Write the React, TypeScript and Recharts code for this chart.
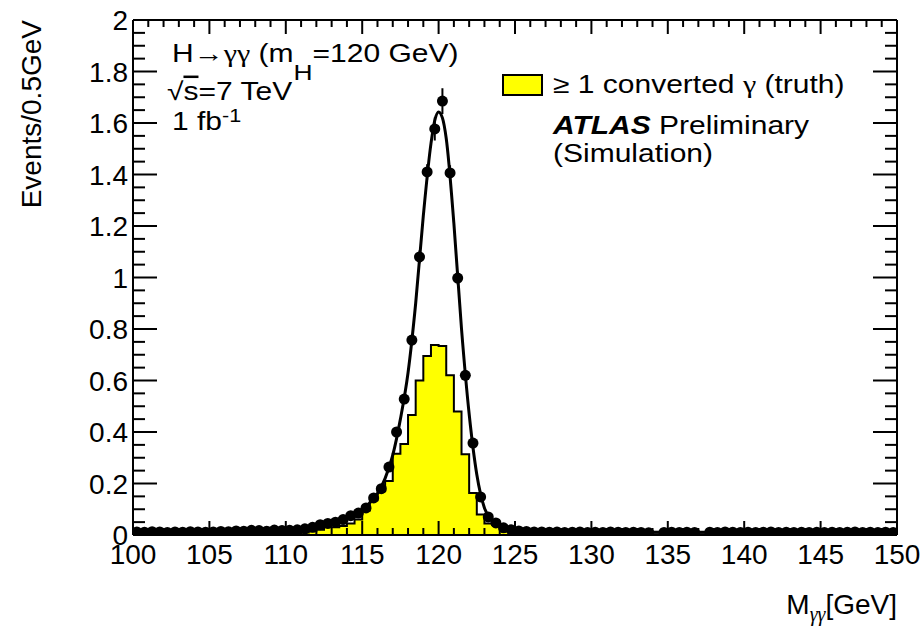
import React from "react"
import { ComposedChart, XAxis, YAxis, Area, Line, Scatter, ErrorBar } from "recharts"

const FONT = "'Liberation Sans', Arial, Helvetica, sans-serif"
const GREEK = "'Liberation Serif', 'DejaVu Serif', serif"
const W = 922
const H = 629
const TM = 8 // tick margin used to recover the axis position inside custom ticks
const SX = 1.2 // the annotation text in the original is drawn wider than it is tall

// yellow histogram (>= 1 converted photon), 0.5 GeV bins starting at 100 GeV
const histLowEdge = 100
const histBinWidth = 0.5
const histValues = [
    0.004, 0.003, 0.004, 0.004, 0.003, 0.004, 0.003, 0.004, 0.004, 0.003,
    0.004, 0.004, 0.003, 0.004, 0.004, 0.005, 0.004, 0.004, 0.005, 0.004,
    0.006, 0.008, 0.01, 0.015, 0.02, 0.03, 0.03, 0.035, 0.045, 0.06, 0.095, 0.135,
    0.17, 0.21, 0.316, 0.353, 0.466, 0.6, 0.695, 0.738, 0.734, 0.62, 0.48, 0.314, 0.163, 0.08, 0.045, 0.04,
    0.03, 0.015, 0.012, 0.008, 0.005, 0.004, 0.004, 0.003, 0.004, 0.003, 0.003, 0.004,
    0.003, 0.003, 0.004, 0.003, 0.003, 0.003, 0.004, 0.003, 0.003, 0.003,
    0.003, 0.004, 0.003, 0.003, 0.003, 0.003, 0.003, 0.004, 0.003, 0.003,
    0.003, 0.003, 0.003, 0.004, 0.003, 0.003, 0.003, 0.003, 0.004, 0.003,
    0.003, 0.003, 0.004, 0.003, 0.003, 0.003, 0.003, 0.004, 0.003, 0.003,
]

// black points (all events), one per 0.5 GeV bin, null = empty bin
const pointValues: (number | null)[] = [
    0.012, 0.011, 0.013, 0.012, 0.01, 0.012, 0.011, 0.013, 0.012, 0.011,
    0.012, 0.014, 0.013, 0.016, 0.015, 0.018, 0.017, 0.015, 0.019, 0.017,
    0.018, 0.02, 0.024, 0.03, 0.04, 0.045, 0.05, 0.06, 0.075, 0.085, 0.105, 0.144,
    0.18, 0.264, 0.4, 0.528, 0.757, 1.08, 1.41, 1.577, 1.685, 1.406, 0.998, 0.62, 0.357, 0.148, 0.07, 0.047,
    0.028, 0.02, 0.016, 0.014, 0.012, 0.012, 0.011, 0.012, 0.01, 0.011, 0.012, 0.01,
    0.011, 0.01, 0.012, 0.011, 0.01, 0.011, 0.01, 0.009, null, 0.01,
    0.011, 0.01, 0.011, 0.01, null, 0.011, 0.01, 0.012, 0.011, 0.01,
    0.011, 0.01, 0.011, 0.012, 0.01, 0.011, 0.01, 0.011, 0.01, 0.011,
    0.01, 0.011, 0.01, 0.011, 0.012, 0.01, 0.011, 0.01, 0.011, 0.01,
]
// statistical errors, only visible around the peak
const pointErrors = [
    0, 0, 0, 0, 0, 0, 0, 0, 0, 0, 0, 0, 0, 0, 0, 0, 0, 0, 0, 0,
    0, 0, 0, 0, 0, 0, 0, 0, 0, 0, 0, 0,
    0, 0, 0, 0, 0.02, 0.025, 0.03, 0.045, 0.05, 0.03, 0.025, 0.02, 0, 0, 0, 0,
]

// fitted signal shape
const fitX = [100, 105, 108, 110, 111, 112, 113, 114, 115, 115.5, 116, 116.5, 117, 117.5, 118, 118.5, 119, 119.5, 119.75, 120, 120.25, 120.5, 121, 121.5, 122, 122.5, 123, 123.5, 124, 124.5, 125, 126, 128, 135, 150]
const fitY = [0.011, 0.012, 0.014, 0.018, 0.022, 0.03, 0.045, 0.065, 0.098, 0.125, 0.16, 0.22, 0.31, 0.45, 0.63, 0.9, 1.24, 1.52, 1.61, 1.643, 1.62, 1.54, 1.21, 0.8, 0.47, 0.235, 0.105, 0.055, 0.035, 0.025, 0.02, 0.015, 0.012, 0.011, 0.01]

const xMajorTicks = [100, 105, 110, 115, 120, 125, 130, 135, 140, 145, 150]
const yMajorTicks = [0, 0.2, 0.4, 0.6, 0.8, 1, 1.2, 1.4, 1.6, 1.8, 2]
const yTickLabels = ["0", "0.2", "0.4", "0.6", "0.8", "1", "1.2", "1.4", "1.6", "1.8", "2"]

const histData = [
    ...histValues.map((y, i) => ({ x: histLowEdge + i * histBinWidth, y })),
    { x: histLowEdge + histValues.length * histBinWidth, y: histValues[histValues.length - 1] },
]
const pointData = pointValues
    .map((y, i) => ({ x: histLowEdge + (i + 0.5) * histBinWidth, y, err: pointErrors[i] ?? 0 }))
    .filter((d) => d.y !== null)
const fitData = fitX.map((x, i) => ({ x, y: fitY[i] }))

const xTicks = xMajorTicks.flatMap((t, i) => (i === xMajorTicks.length - 1 ? [t] : [t, t + 1, t + 2, t + 3, t + 4]))
const yTicks = yMajorTicks.flatMap((t, i) => (i === yMajorTicks.length - 1 ? [t] : [t, t + 0.05, t + 0.1, t + 0.15]))

const majorIndex = (list: number[], v: number) => list.findIndex((m) => Math.abs(m - v) < 1e-6)

const BottomTick = ({ x, y, payload }: any) => {
    const major = majorIndex(xMajorTicks, payload.value) >= 0
    const axisY = y - TM
    return (
        <g>
            <line x1={x} x2={x} y1={axisY} y2={axisY - (major ? 14 : 7)} stroke="#000" strokeWidth={2} />
            {major && (
                <text x={x} y={axisY + 29} textAnchor="middle" fontSize={28} fontFamily={FONT} fill="#000">
                    {payload.value}
                </text>
            )}
        </g>
    )
}

const TopTick = ({ x, y, payload }: any) => {
    const major = majorIndex(xMajorTicks, payload.value) >= 0
    const axisY = y + TM
    return <line x1={x} x2={x} y1={axisY} y2={axisY + (major ? 14 : 7)} stroke="#000" strokeWidth={2} />
}

const LeftTick = ({ x, y, payload }: any) => {
    const idx = majorIndex(yMajorTicks, payload.value)
    const axisX = x + TM
    return (
        <g>
            <line x1={axisX} x2={axisX + (idx >= 0 ? 24 : 12)} y1={y} y2={y} stroke="#000" strokeWidth={2} />
            {idx >= 0 && (
                <text x={axisX - 5} y={y + 10} textAnchor="end" fontSize={28} fontFamily={FONT} fill="#000">
                    {yTickLabels[idx]}
                </text>
            )}
        </g>
    )
}

const RightTick = ({ x, y, payload }: any) => {
    const major = majorIndex(yMajorTicks, payload.value) >= 0
    const axisX = x - TM
    return <line x1={axisX} x2={axisX - (major ? 24 : 12)} y1={y} y2={y} stroke="#000" strokeWidth={2} />
}

const Dot = (p: any) => <circle cx={p.cx} cy={p.cy} r={5.5} fill="#000" />

const Ann = ({ x, y, size = 25, children }: { x: number; y: number; size?: number; children: React.ReactNode }) => (
    <text transform={`translate(${x} ${y}) scale(${SX} 1)`} fontSize={size} fontFamily={FONT} fill="#000">
        {children}
    </text>
)

const axisLine = { stroke: "#000", strokeWidth: 2 }

export default function App() {
    return (
        <div style={{ position: "absolute", left: 0, top: 0, width: W, height: H, background: "#fff" }}>
            <ComposedChart width={W} height={H} margin={{ top: 0, right: 0, bottom: 0, left: 0 }}>
                <XAxis
                    dataKey="x"
                    type="number"
                    domain={[100, 150]}
                    ticks={xTicks}
                    interval={0}
                    height={94}
                    tickSize={0}
                    tickMargin={TM}
                    tick={<BottomTick />}
                    axisLine={axisLine}
                    allowDataOverflow
                />
                <XAxis
                    xAxisId="top"
                    orientation="top"
                    dataKey="x"
                    type="number"
                    domain={[100, 150]}
                    ticks={xTicks}
                    interval={0}
                    height={20}
                    tickSize={0}
                    tickMargin={TM}
                    tick={<TopTick />}
                    axisLine={axisLine}
                    allowDataOverflow
                />
                <YAxis
                    type="number"
                    domain={[0, 2]}
                    ticks={yTicks}
                    interval={0}
                    width={133}
                    tickSize={0}
                    tickMargin={TM}
                    tick={<LeftTick />}
                    axisLine={axisLine}
                    allowDataOverflow
                />
                <YAxis
                    yAxisId="right"
                    orientation="right"
                    type="number"
                    domain={[0, 2]}
                    ticks={yTicks}
                    interval={0}
                    width={25}
                    tickSize={0}
                    tickMargin={TM}
                    tick={<RightTick />}
                    axisLine={axisLine}
                    allowDataOverflow
                />
                <Area
                    data={histData}
                    dataKey="y"
                    type="stepAfter"
                    stroke="#000"
                    strokeWidth={2}
                    fill="#ffff00"
                    fillOpacity={1}
                    dot={false}
                    activeDot={false}
                    isAnimationActive={false}
                />
                <Line
                    data={fitData}
                    dataKey="y"
                    type="monotone"
                    stroke="#000"
                    strokeWidth={3}
                    dot={false}
                    activeDot={false}
                    isAnimationActive={false}
                />
                <Scatter data={pointData} dataKey="y" shape={<Dot />} isAnimationActive={false}>
                    <ErrorBar dataKey="err" direction="y" width={0} stroke="#000" strokeWidth={2} />
                </Scatter>
            </ComposedChart>
            <svg width={W} height={H} style={{ position: "absolute", left: 0, top: 0, pointerEvents: "none" }}>
                <text transform="translate(41 20) rotate(-90)" textAnchor="end" fontSize={28} fontFamily={FONT} fill="#000">
                    Events/0.5GeV
                </text>
                <text x={897} y={614} textAnchor="end" fontSize={28} fontFamily={FONT} fill="#000">
                    M<tspan dy={7} fontSize={20} fontFamily={GREEK} fontStyle="italic">γγ</tspan>
                    <tspan dy={-7}>[GeV]</tspan>
                </text>

                <Ann x={172} y={62}>
                    H→<tspan fontFamily={GREEK}>γγ</tspan> (m<tspan dy={18} fontSize={22}>H</tspan>
                    <tspan dy={-18}>=120 GeV)</tspan>
                </Ann>
                <Ann x={167} y={100}>
                    √<tspan style={{ textDecoration: "overline" }}>s</tspan>=7 TeV
                </Ann>
                <Ann x={172} y={130}>
                    1 fb<tspan dy={-8} fontSize={18}>-1</tspan>
                </Ann>

                <rect x={503} y={75} width={39} height={20} fill="#ffff00" stroke="#000" strokeWidth={2} />
                <Ann x={553} y={93}>
                    ≥ 1 converted <tspan fontFamily={GREEK}>γ</tspan> (truth)
                </Ann>
                <Ann x={553} y={134}>
                    <tspan fontWeight="bold" fontStyle="italic">ATLAS</tspan> Preliminary
                </Ann>
                <Ann x={553} y={162}>(Simulation)</Ann>
            </svg>
        </div>
    )
}
